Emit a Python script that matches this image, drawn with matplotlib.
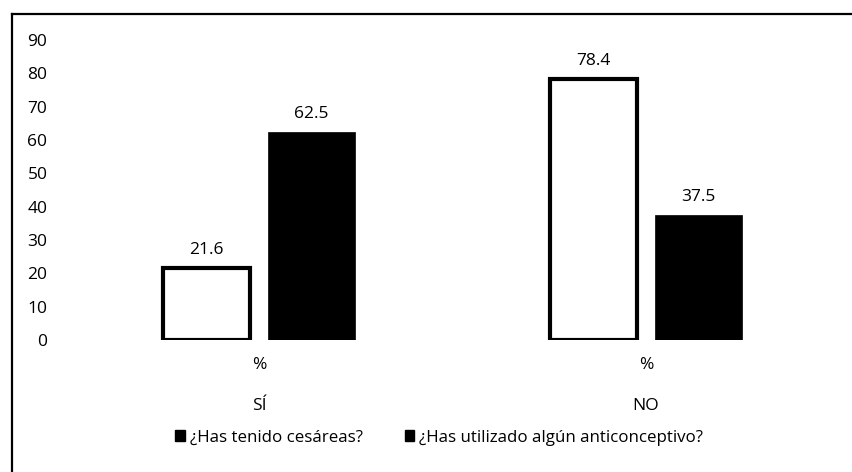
import numpy as np
import matplotlib
matplotlib.use("Agg")
import matplotlib.pyplot as plt
from matplotlib.lines import Line2D
from matplotlib.patches import Patch

plt.rcParams['font.family'] = ['Open Sans', 'DejaVu Sans']

groups      = ["SÍ", "NO"]
sub_label   = "%"
series      = ["¿Has tenido cesáreas?", "¿Has utilizado algún anticonceptivo?"]
cesareas    = [21.6, 78.4]
anticonc    = [62.5, 37.5]
yticks      = [0, 10, 20, 30, 40, 50, 60, 70, 80, 90]

fig = plt.figure(figsize=(8.53, 4.72), dpi=100)
ax = fig.add_axes([0.0768, 0.2797, 0.9074, 0.6356])

x = np.arange(len(groups))
w = 0.225
off = 0.136

b1 = ax.bar(x - off, cesareas, w, color='white', edgecolor='black', linewidth=3)
b2 = ax.bar(x + off, anticonc, w, color='black', edgecolor='black', linewidth=0.5)

for rects, vals in ((b1, cesareas), (b2, anticonc)):
    for r, v in zip(rects, vals):
        ax.annotate("{0:.1f}".format(v), (r.get_x() + r.get_width() / 2, v),
                    xytext=(0, 7), textcoords='offset points',
                    ha='center', va='bottom', fontsize=12.5)

ax.set_xlim(-0.5, 1.5)
ax.set_ylim(0, 90)
ax.set_yticks(yticks)
ax.set_xticks(x)
ax.set_xticklabels([sub_label] * len(groups))
ax.tick_params(axis='both', length=0, labelsize=12.5)
ax.tick_params(axis='y', pad=13)
ax.tick_params(axis='x', pad=12)
for s in ax.spines.values():
    s.set_visible(False)

for i, g in enumerate(groups):
    ax.text(i, -0.22, g, transform=ax.get_xaxis_transform(),
            ha='center', va='center', fontsize=12.5)

handles = [Patch(facecolor='black', edgecolor='black'),
           Patch(facecolor='black', edgecolor='black')]
fig.legend(handles, series, loc='center', bbox_to_anchor=(0.515, 0.073),
           ncol=2, frameon=False, fontsize=12.2, handlelength=0.55,
           handleheight=0.55, handletextpad=0.3, columnspacing=2.5)

# outer frame
fig.add_artist(Line2D([0.0141, 1.0], [0.9703, 0.9703], color='black', lw=1.6,
                      transform=fig.transFigure))
fig.add_artist(Line2D([0.0141, 0.0141], [0.0, 0.9703], color='black', lw=1.6,
                      transform=fig.transFigure))

fig.savefig("out.png", dpi=100)
